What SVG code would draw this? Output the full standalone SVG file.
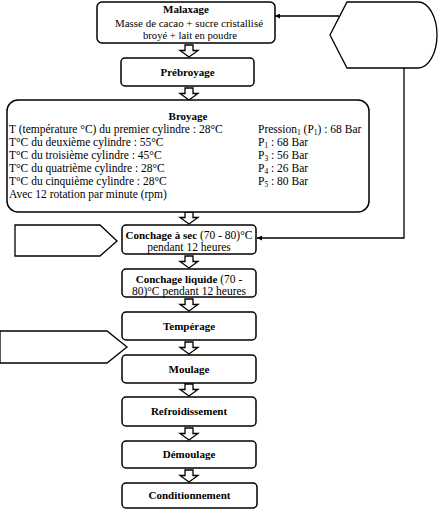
<svg xmlns="http://www.w3.org/2000/svg" width="438" height="512" viewBox="0 0 438 512">
<style>
.box{fill:#fff;stroke:#000;stroke-width:1.5}
.shape{fill:#fff;stroke:#000;stroke-width:1.3}
.t{font-family:"Liberation Serif","Times New Roman",serif;font-size:11.5px;fill:#000}
.s{font-size:10.5px}
.b{font-weight:bold;font-size:11px}
.c{text-anchor:middle}
.ha{fill:#fff;stroke:#000;stroke-width:1.3;stroke-linejoin:miter}
.conn{fill:none;stroke:#000;stroke-width:1.3}
</style>
<defs>
<marker id="ah" viewBox="0 0 10 10" refX="10" refY="5" markerWidth="7" markerHeight="5" orient="auto" markerUnits="userSpaceOnUse">
<path d="M0,0 L10,5 L0,10 z" fill="#000"/>
</marker>
<path id="hollow" d="M-4,0 H4 V5.5 H9 L0,12 L-9,5.5 H-4 Z"/>
</defs>

<g id="connectors">
<path class="conn" d="M339,16 H275" marker-end="url(#ah)"/>
<path class="conn" d="M404,68 V238 H257" marker-end="url(#ah)"/>
<g class="ha">
<use href="#hollow" x="189" y="45"/>
<use href="#hollow" x="189" y="88"/>
<use href="#hollow" x="189" y="212"/>
<use href="#hollow" x="189" y="256"/>
<use href="#hollow" x="189" y="299"/>
<use href="#hollow" x="189" y="342"/>
<use href="#hollow" x="189" y="384"/>
<use href="#hollow" x="189" y="428"/>
<use href="#hollow" x="189" y="470"/>
</g>
</g>

<g id="display">
<path class="shape" d="M347,2 H418 A19,33 0 0 1 418,68 H347 L330,35 Z"/>
</g>
<g id="input1">
<path class="shape" d="M15,225 H100 L117,241 L100,256 H15 Z"/>
</g>
<g id="input2">
<path class="shape" d="M0,331 H107 L127,347 L107,363 H0 Z"/>
</g>

<g id="malaxage">
<rect class="box" x="97" y="2" width="178" height="41" rx="5"/>
<text class="t b c" x="186" y="13">Malaxage</text>
<text class="t s c" x="189" y="27" textLength="148" lengthAdjust="spacingAndGlyphs">Masse de cacao + sucre cristallisé</text>
<text class="t s c" x="190" y="38.5" textLength="94" lengthAdjust="spacingAndGlyphs">broyé  + lait en poudre</text>
</g>

<g id="prebroyage">
<rect class="box" x="121" y="58" width="133" height="28" rx="4"/>
<text class="t b c" x="187.5" y="76">Prébroyage</text>
</g>

<g id="broyage">
<rect class="box" x="7" y="100" width="362" height="112" rx="11"/>
<text class="t b c" x="188" y="120">Broyage</text>
<text class="t" x="9" y="133">T (température °C) du premier cylindre : 28°C</text>
<text class="t" x="9" y="146">T°C du deuxième cylindre : 55°C</text>
<text class="t" x="9" y="159">T°C du troisième cylindre : 45°C</text>
<text class="t" x="9" y="172">T°C du quatrième cylindre : 28°C</text>
<text class="t" x="9" y="185">T°C du cinquième cylindre : 28°C</text>
<text class="t" x="9" y="198">Avec 12 rotation par minute (rpm)</text>
<text class="t" x="258" y="133">Pression<tspan font-size="7.5" dy="2">1</tspan><tspan dy="-2"> (P</tspan><tspan font-size="7.5" dy="2">1</tspan><tspan dy="-2">) : 68 Bar</tspan></text>
<text class="t" x="258" y="146">P<tspan font-size="7.5" dy="2">1</tspan><tspan dy="-2"> : 68 Bar</tspan></text>
<text class="t" x="258" y="159">P<tspan font-size="7.5" dy="2">3</tspan><tspan dy="-2"> : 56 Bar</tspan></text>
<text class="t" x="258" y="172">P<tspan font-size="7.5" dy="2">4</tspan><tspan dy="-2"> : 26 Bar</tspan></text>
<text class="t" x="258" y="185">P<tspan font-size="7.5" dy="2">5</tspan><tspan dy="-2"> : 80 Bar</tspan></text>
</g>

<g id="conchage-sec">
<rect class="box" x="122" y="225" width="134" height="29" rx="4"/>
<text class="t c" x="189" y="238.5"><tspan class="b">Conchage à sec</tspan> (70 - 80)°C</text>
<text class="t c" x="189" y="251">pendant 12 heures</text>
</g>

<g id="conchage-liquide">
<rect class="box" x="122" y="269" width="134" height="28" rx="4"/>
<text class="t c" x="189" y="283"><tspan class="b">Conchage liquide</tspan> (70 -</text>
<text class="t c" x="189" y="295">80)°C pendant 12 heures</text>
</g>

<g id="temperage">
<rect class="box" x="122" y="312" width="134" height="28" rx="4"/>
<text class="t b c" x="189" y="330">Tempérage</text>
</g>

<g id="moulage">
<rect class="box" x="122" y="355" width="134" height="28" rx="4"/>
<text class="t b c" x="189" y="373">Moulage</text>
</g>

<g id="refroidissement">
<rect class="box" x="122" y="397" width="134" height="29" rx="4"/>
<text class="t b c" x="189" y="415">Refroidissement</text>
</g>

<g id="demoulage">
<rect class="box" x="122" y="441" width="134" height="27" rx="4"/>
<text class="t b c" x="189" y="458">Démoulage</text>
</g>

<g id="conditionnement">
<rect class="box" x="122" y="483" width="135" height="25" rx="4"/>
<text class="t b c" x="189.5" y="499">Conditionnement</text>
</g>
</svg>
